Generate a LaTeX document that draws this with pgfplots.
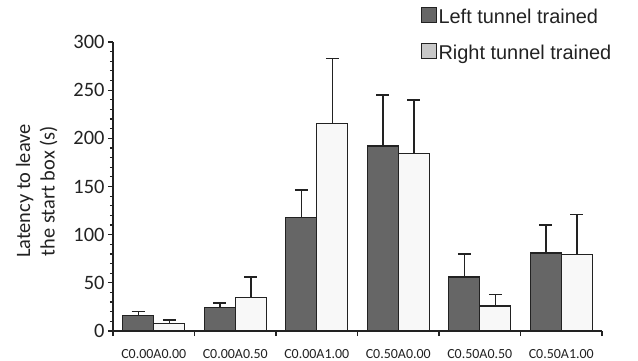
\documentclass[border=0pt]{standalone}
\usepackage{fontspec}
\setmainfont{Carlito}
\newfontfamily\arialfont{Liberation Sans}
\usepackage{pgfplots}
\usepackage{pgfplotstable}
\pgfplotsset{compat=1.18}
\definecolor{darkbar}{HTML}{666666}
\definecolor{lightbar}{HTML}{F8F8F8}
\definecolor{edge}{HTML}{222222}
\definecolor{legendlight}{HTML}{C8C8C8}

\pgfplotstableread{
x L Lerr R Rerr
0 16 4 8 3.5
1 24 5 35 21
2 118 28.5 215 68
3 192 53 184 56
4 56 24 26 12
5 81 29 79 42
}\data

\begin{document}
\begin{tikzpicture}
\useasboundingbox (0bp,0bp) rectangle (638bp,361bp);
\begin{axis}[
  at={(113bp,30bp)}, anchor=south west,
  width=489bp, height=289bp, scale only axis,
  xmin=-0.5, xmax=5.5, ymin=0, ymax=300,
  axis x line*=bottom, axis y line*=left,
  axis line style={line width=1.5bp, draw=edge},
  xtick={-0.5,0.5,1.5,2.5,3.5,4.5,5.5},
  x tick label as interval,
  xticklabels={C0.00A0.00,C0.00A0.50,C0.00A1.00,C0.50A0.00,C0.50A0.50,C0.50A1.00},
  ytick={0,50,...,300}, minor y tick num=4,
  tick align=outside, major tick length=5bp, minor tick length=3bp,
  tick style={line width=1.2bp, draw=edge},
  /pgf/number format/assume math mode=true,
  xticklabel style={font=\fontsize{14}{16}\selectfont, text=edge, yshift=-10bp},
  yticklabel style={font=\fontsize{20.5}{24}\selectfont, text=edge},
  ylabel={Latency to leave\\the start box (s)},
  ylabel style={align=center, font=\fontsize{20.5}{24.5}\selectfont, text=edge,
    at={(axis description cs:-0.156,0.484)}, anchor=center},
  ybar=0pt, bar width=31bp,
  legend style={at={(axis description cs:0.630,1.120)}, anchor=north west,
    draw=none, fill=none, inner sep=0pt, outer sep=0pt,
    font=\arialfont\fontsize{20}{24}\selectfont, text=edge,
    nodes={inner sep=1.5bp}, row sep=16bp,
    /tikz/every even column/.append style={column sep=2bp}},
  legend cell align=left,
]
\addplot[fill=darkbar, draw=edge, line width=1.2bp,
  legend image code/.code={\draw[fill=darkbar, draw=edge, line width=1bp] (0bp,-5.5bp) rectangle (15bp,9.5bp);},
  error bars/.cd, y dir=plus, y explicit,
  error bar style={line width=1.5bp, draw=edge},
  error mark options={rotate=90, mark size=6.5bp, line width=1.5bp, draw=edge}]
  table[x=x, y=L, y error=Lerr] {\data};
\addlegendentry{Left tunnel trained}
\addplot[fill=lightbar, draw=edge, line width=1.2bp,
  legend image code/.code={\draw[fill=legendlight, draw=edge, line width=1bp] (0bp,-5.5bp) rectangle (15bp,9.5bp);},
  error bars/.cd, y dir=plus, y explicit,
  error bar style={line width=1.5bp, draw=edge},
  error mark options={rotate=90, mark size=6.5bp, line width=1.5bp, draw=edge}]
  table[x=x, y=R, y error=Rerr] {\data};
\addlegendentry{Right tunnel trained}
\end{axis}
\end{tikzpicture}
\end{document}
